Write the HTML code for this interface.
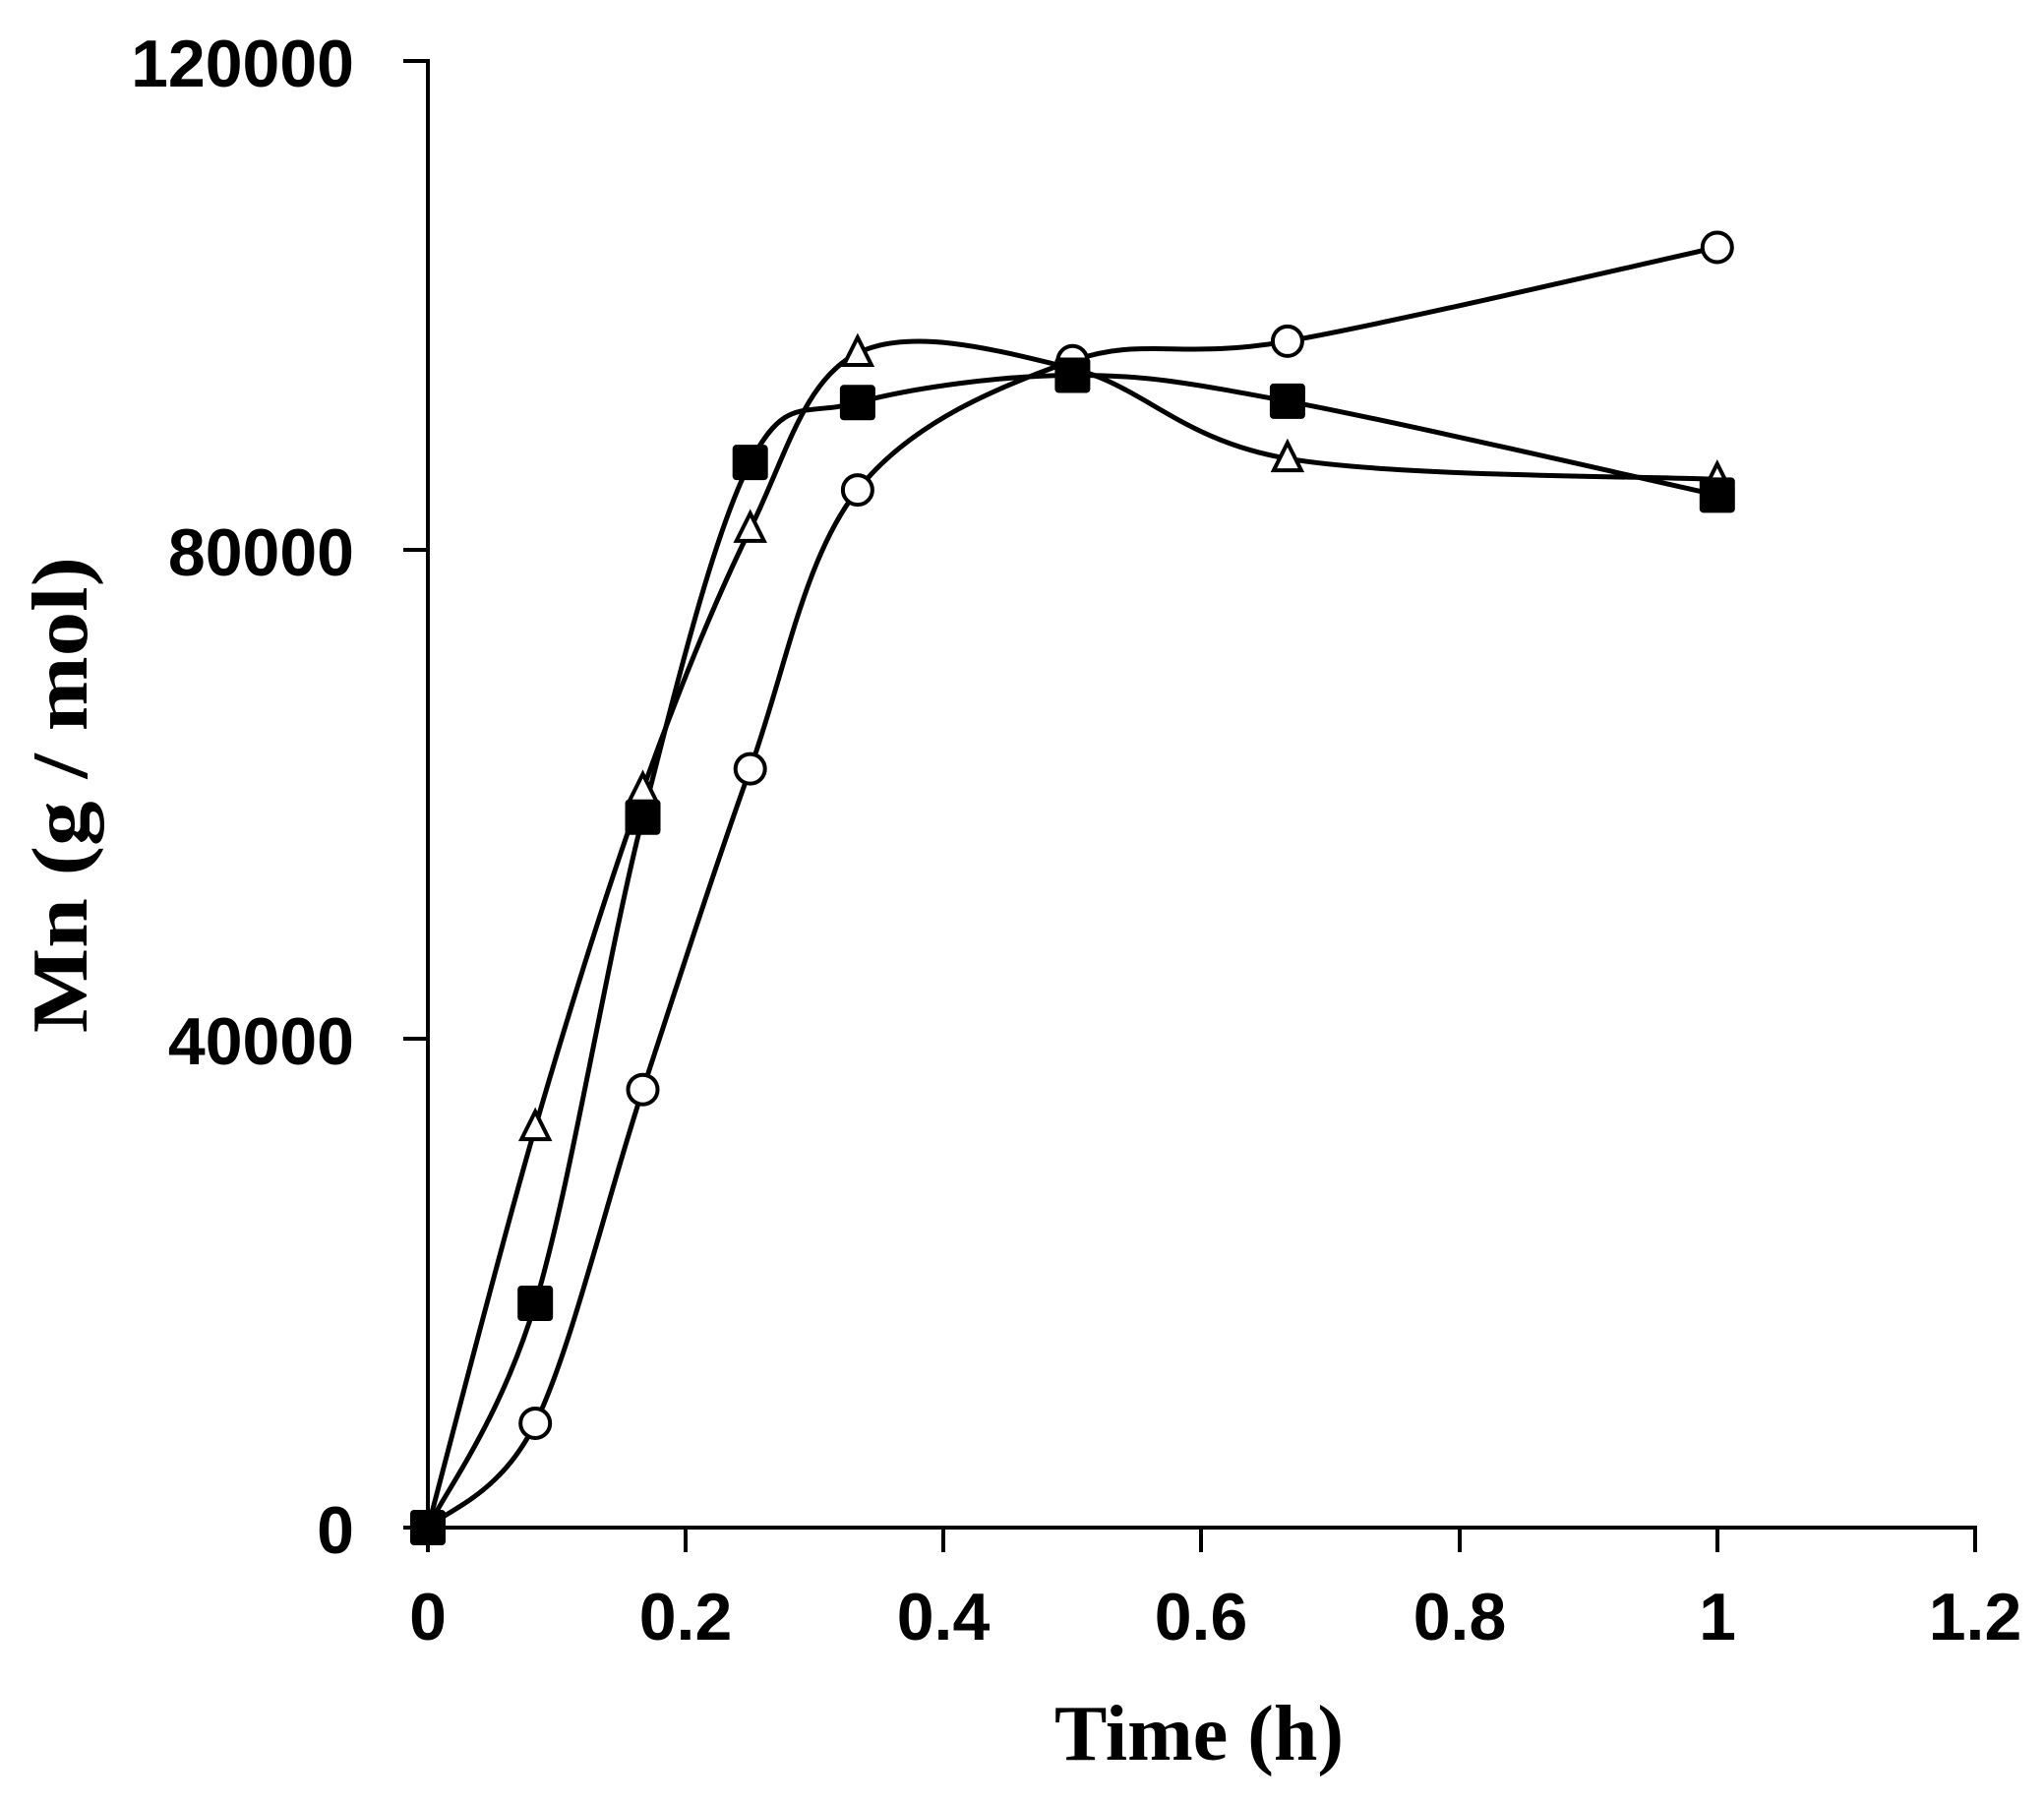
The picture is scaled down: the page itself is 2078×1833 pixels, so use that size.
<!DOCTYPE html>
<html><head><meta charset="utf-8"><style>
html,body{margin:0;padding:0;background:#fff;width:2078px;height:1833px;overflow:hidden}
svg{display:block}
.t{font-family:"Liberation Sans",Arial,sans-serif;font-weight:bold;font-size:68px;fill:#000}
.l{font-family:"Liberation Serif","Times New Roman",serif;font-weight:bold;font-size:80px;fill:#000}
</style></head><body>
<svg id="s" width="2078" height="1833" viewBox="0 0 2078 1833" xmlns="http://www.w3.org/2000/svg">
<g stroke="#000" stroke-width="4" fill="none">
<path d="M410 62 H435 V1553 H2008 V1578"/>
<path d="M410 559 H435 M410 1056 H435 M410 1553 H435"/>
<path d="M435 1553 V1578 M697 1553 V1578 M959 1553 V1578 M1221 1553 V1578 M1484 1553 V1578 M1746 1553 V1578"/>
</g>
<g class="t" text-anchor="end">
<text x="360" y="88">120000</text>
<text x="360" y="585">80000</text>
<text x="360" y="1082">40000</text>
<text x="360" y="1579">0</text>
</g>
<g class="t" text-anchor="middle">
<text x="435" y="1667">0</text>
<text x="697" y="1667">0.2</text>
<text x="959" y="1667">0.4</text>
<text x="1221" y="1667">0.6</text>
<text x="1484" y="1667">0.8</text>
<text x="1746" y="1667">1</text>
<text x="2008" y="1667">1.2</text>
</g>
<text class="l" x="1219" y="1789" text-anchor="middle">Time (h)</text>
<text class="l" transform="translate(88,808) rotate(-90)" text-anchor="middle" textLength="484" lengthAdjust="spacingAndGlyphs">Mn  (g / mol)</text>
<g id="g"></g>
</svg>
<script>
var X=t=>435+t*1310.8, Y=v=>1553-v/120000*1491;
var T=[0,0.0833,0.1667,0.25,0.3333,0.5,0.6667,1.0];
var C=[0,8533,35840,62080,84900,95470,97070,104750];
var Tr=[0,32750,60370,81700,96100,94830,87470,85760];
var S=[0,18350,58130,87150,92050,94290,92160,84480];
function path(d){var p=T.map((t,i)=>[X(t),Y(d[i])]);var s="M"+p[0][0]+" "+p[0][1];
for(var i=0;i<p.length-1;i++){var a=p[Math.max(i-1,0)],b=p[i],c=p[i+1],e=p[Math.min(i+2,p.length-1)];var k=6;
s+=" C"+(b[0]+(c[0]-a[0])/k)+" "+(b[1]+(c[1]-a[1])/k)+" "+(c[0]-(e[0]-b[0])/k)+" "+(c[1]-(e[1]-b[1])/k)+" "+c[0]+" "+c[1];}
return '<path d="'+s+'" fill="none" stroke="#000" stroke-width="5"/>';}
var h=path(C)+path(Tr)+path(S);
T.forEach((t,i)=>{var x=X(t);
var y=Y(Tr[i]);h+='<polygon points="'+x+','+(y-16)+' '+(x-14)+','+(y+12)+' '+(x+14)+','+(y+12)+'" fill="#fff" stroke="#000" stroke-width="4"/>';
y=Y(C[i]);h+='<circle cx="'+x+'" cy="'+y+'" r="15" fill="#fff" stroke="#000" stroke-width="4"/>';
y=Y(S[i]);h+='<rect x="'+(x-18)+'" y="'+(y-18)+'" width="36" height="36" rx="4" fill="#000"/>';});
document.getElementById('g').innerHTML=h;
</script>
</body></html>
